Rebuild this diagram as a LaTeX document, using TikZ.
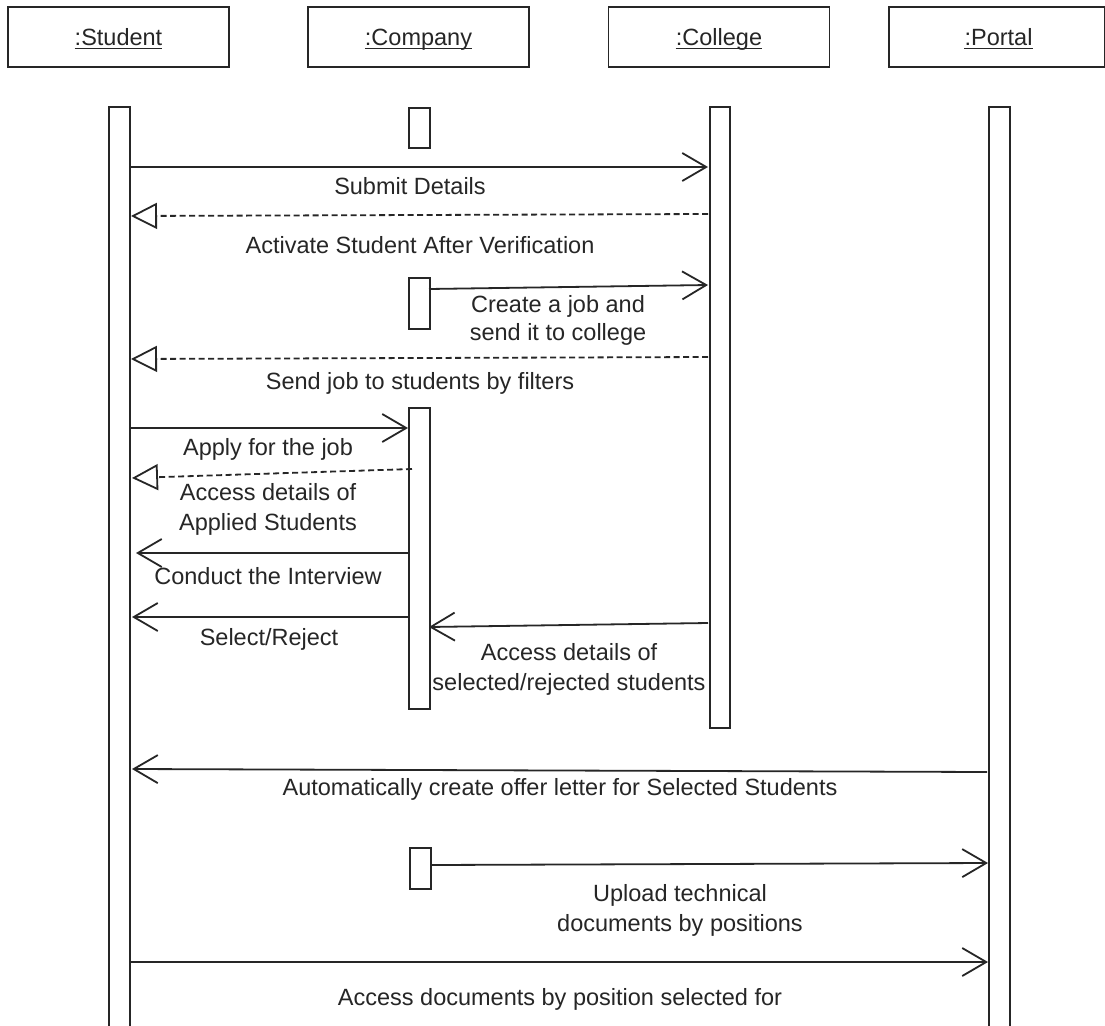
\documentclass[tikz,border=0pt]{standalone}
\usepackage{fontspec}
\setmainfont{Liberation Sans}
\usetikzlibrary{arrows.meta}
\definecolor{ink}{gray}{0.15}
\tikzset{
  ln/.style={line width=1.8pt, draw=ink},
  msg/.style={ln, -{Straight Barb[length=24pt,width=28pt]}},
  ret/.style={ln, dash pattern=on 6pt off 3.5pt, -{Triangle[open,length=26pt,width=26pt,fill=white]}},
  hdr/.style={draw=ink, line width=1.8pt, minimum height=60pt, inner sep=0pt},
  bar/.style={draw=ink, line width=1.8pt, fill=white, inner sep=0pt, anchor=north west},
  lbl/.style={text=ink, font=\fontsize{23.5}{28}\selectfont, anchor=base, inner sep=0pt},
  uline/.style={draw=ink, line width=1.6pt}
}
\begin{document}
\begin{tikzpicture}[x=1pt,y=-1pt]
\useasboundingbox (0,0) rectangle (1105,1025);
\clip (0,0) rectangle (1105,1025);
\fill[white] (0,0) rectangle (1105,1025);

% header boxes
\node[hdr, minimum width=221pt] (hStu) at (118.5,37) {};
\node[hdr, minimum width=221pt] (hCom) at (418.5,37) {};
\node[hdr, minimum width=221pt] (hCol) at (719,37) {};
\node[hdr, minimum width=216pt, anchor=west] (hPor) at (888,37) {};
\node[lbl] (tStu) at (118.5,45.5) {:Student};
\node[lbl] (tCom) at (418.5,45.5) {:Company};
\node[lbl] (tCol) at (719,45.5) {:College};
\node[lbl] (tPor) at (998.5,45.5) {:Portal};
\foreach \t in {tStu,tCom,tCol,tPor}
  \draw[uline] ([yshift=-3pt]\t.base west) -- ([yshift=-3pt]\t.base east);

% lifeline bars / activations
\node[bar, minimum width=21pt, minimum height=930pt] (stuBar) at (108,106) {};
\node[bar, minimum width=21pt, minimum height=930pt] (porBar) at (988,106) {};
\node[bar, minimum width=20pt, minimum height=621pt] (colBar) at (709,106) {};
\node[bar, minimum width=21pt, minimum height=40pt] (cb1) at (408,107) {};
\node[bar, minimum width=21pt, minimum height=51pt] (cb2) at (408,277) {};
\node[bar, minimum width=21pt, minimum height=301pt] (cb3) at (408,407) {};
\node[bar, minimum width=21pt, minimum height=41pt] (cb4) at (409,847) {};

% message end points
\coordinate (a1) at (129,167);  \coordinate (b1) at (708,167);
\coordinate (a2) at (708,214);  \coordinate (b2) at (131,216);
\coordinate (a3) at (429,289);  \coordinate (b3) at (708,285);
\coordinate (a4) at (708,357);  \coordinate (b4) at (131,359);
\coordinate (a5) at (129,428);  \coordinate (b5) at (408,428);
\coordinate (a6) at (412,469);  \coordinate (b6) at (132,478);
\coordinate (a7) at (408,553);  \coordinate (b7) at (136,553);
\coordinate (a8) at (408,617);  \coordinate (b8) at (132,617);
\coordinate (a9) at (708,623);  \coordinate (b9) at (429,627);
\coordinate (a10) at (987,772); \coordinate (b10) at (132,769);
\coordinate (a11) at (430,865); \coordinate (b11) at (988,863);
\coordinate (a12) at (129,962); \coordinate (b12) at (988,962);

\draw[msg] (a1) -- (b1);
\draw[ret] (a2) -- (b2);
\draw[msg] (a3) -- (b3);
\draw[ret] (a4) -- (b4);
\draw[msg] (a5) -- (b5);
\draw[ret] (a6) -- (b6);
\draw[msg] (a7) -- (b7);
\draw[msg] (a8) -- (b8);
\draw[msg] (a9) -- (b9);
\draw[msg] (a10) -- (b10);
\draw[msg] (a11) -- (b11);
\draw[msg] (a12) -- (b12);

% labels
\node[lbl] (l1) at (410,194) {Submit Details};
\node[lbl] (l2) at (420,253) {Activate Student After Verification};
\node[lbl] (l3a) at (558,312) {Create a job and};
\node[lbl] (l3b) at (558,340) {send it to college};
\node[lbl] (l4) at (420,389) {Send job to students by filters};
\node[lbl] (l5) at (268,455) {Apply for the job};
\node[lbl] (l6a) at (268,500) {Access details of};
\node[lbl] (l6b) at (268,530) {Applied Students};
\node[lbl] (l7) at (268,584) {Conduct the Interview};
\node[lbl] (l8) at (269,645) {Select/Reject};
\node[lbl] (l9a) at (569,660) {Access details of};
\node[lbl] (l9b) at (569,690) {selected/rejected students};
\node[lbl] (l10) at (560,795) {Automatically create offer letter for Selected Students};
\node[lbl] (l11a) at (680,901) {Upload technical};
\node[lbl] (l11b) at (680,931) {documents by positions};
\node[lbl] (l12) at (560,1005) {Access documents by position selected for};
\end{tikzpicture}
\end{document}
